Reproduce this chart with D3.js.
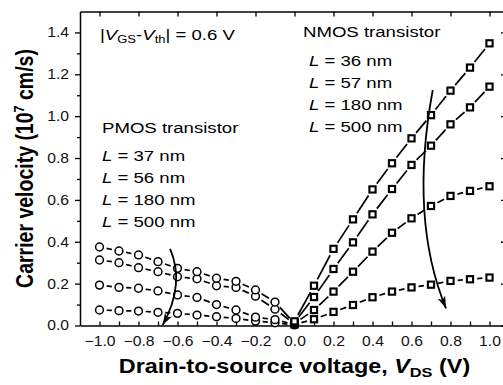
<!DOCTYPE html>
<html><head><meta charset="utf-8">
<script src="https://cdn.jsdelivr.net/npm/d3@7"></script>
<style>
html,body{margin:0;padding:0;background:#fff;}
svg{display:block;}
</style></head>
<body>
<svg id="chart" width="503" height="385"></svg>
<script>
// ---------------- data ----------------
const nmosX = [0.0, 0.1, 0.2, 0.3, 0.4, 0.5, 0.6, 0.7, 0.8, 0.9, 1.0];
const nmos36  = [0.020, 0.190, 0.366, 0.507, 0.650, 0.775, 0.894, 1.005, 1.122, 1.232, 1.348];
const nmos57  = [0.015, 0.136, 0.270, 0.397, 0.531, 0.652, 0.767, 0.859, 0.961, 1.042, 1.141];
const nmos180 = [0.010, 0.074, 0.162, 0.257, 0.353, 0.443, 0.512, 0.571, 0.619, 0.643, 0.665];
const nmos500 = [0.005, 0.030, 0.065, 0.098, 0.135, 0.162, 0.182, 0.195, 0.213, 0.221, 0.229];

const pmosX = [-1.0, -0.9, -0.8, -0.7, -0.6, -0.5, -0.4, -0.3, -0.2, -0.1, 0.0];
const pmos37  = [0.375, 0.356, 0.337, 0.305, 0.273, 0.257, 0.226, 0.211, 0.170, 0.112, 0.010];
const pmos56  = [0.313, 0.300, 0.276, 0.257, 0.233, 0.223, 0.190, 0.182, 0.140, 0.078, 0.008];
const pmos180 = [0.193, 0.182, 0.178, 0.165, 0.146, 0.134, 0.100, 0.074, 0.040, 0.028, 0.005];
const pmos500 = [0.074, 0.071, 0.069, 0.063, 0.058, 0.050, 0.042, 0.034, 0.021, 0.013, 0.003];

const xTickValues = [-1.0,-0.9,-0.8,-0.7,-0.6,-0.5,-0.4,-0.3,-0.2,-0.1,0.0,0.1,0.2,0.3,0.4,0.5,0.6,0.7,0.8,0.9,1.0];
const xLabelValues = [-1.0,-0.8,-0.6,-0.4,-0.2,0.0,0.2,0.4,0.6,0.8,1.0];
const yTickValues = [0.0,0.2,0.4,0.6,0.8,1.0,1.2,1.4];
const yMinorValues = [0.1,0.3,0.5,0.7,0.9,1.1,1.3];

const nmosLabels = ["36", "57", "180", "500"];
const pmosLabels = ["37", "56", "180", "500"];

// arrows (data coordinates: 4 bezier control points)
const nmosArrow = [[0.709,1.125],[0.643,0.791],[0.632,0.409],[0.777,0.082]];
const pmosArrow = [[-0.638,0.366],[-0.591,0.265],[-0.591,0.146],[-0.676,0.002]];

// ---------------- layout ----------------
const FONT = "'Liberation Sans', Arial, Helvetica, sans-serif";
const SX = 1.2;       // horizontal stretch of the original image
const svg = d3.select("#chart");
const x = d3.scaleLinear().domain([-1.1, 1.1]).range([80, 509]);
const y = d3.scaleLinear().domain([0, 1.5]).range([325.5, 11.5]);

// ---------- axes ----------
const fmt = d3.format(".1f");
const axStyle = g => {
  g.selectAll("path.domain").attr("stroke","#000").attr("stroke-width",1.5);
  g.selectAll(".tick line").attr("stroke","#000").attr("stroke-width",1.3);
};

// bottom
const gB = svg.append("g").attr("transform",`translate(0,${y(0)})`)
  .call(d3.axisBottom(x).tickValues(xTickValues).tickSizeInner(-4).tickSizeOuter(0).tickPadding(11)
        .tickFormat(d => xLabelValues.some(v => Math.abs(v-d)<1e-9) ? fmt(d) : ""));
axStyle(gB);
gB.selectAll(".tick text").attr("font-family",FONT).attr("font-size",14).attr("fill","#111")
  .attr("transform",`scale(${1.12},1)`)
  .attr("x",0);

// top
const gT = svg.append("g").attr("transform",`translate(0,${y(1.5)})`)
  .call(d3.axisTop(x).tickValues(xLabelValues).tickSizeInner(-5).tickSizeOuter(0).tickFormat(""));
axStyle(gT);

// left
const gL = svg.append("g").attr("transform",`translate(${x(-1.1)},0)`)
  .call(d3.axisLeft(y).tickValues(yTickValues).tickSizeInner(5).tickSizeOuter(0).tickPadding(6).tickFormat(fmt));
axStyle(gL);
gL.selectAll(".tick text").attr("font-family",FONT).attr("font-size",14).attr("fill","#111")
  .attr("transform",`scale(${1.12},1)`).attr("x",-11/1.12);
const gLm = svg.append("g").attr("transform",`translate(${x(-1.1)},0)`)
  .call(d3.axisLeft(y).tickValues(yMinorValues).tickSizeInner(3).tickSizeOuter(0).tickFormat(""));
axStyle(gLm); gLm.select("path.domain").remove();

// right
const gR = svg.append("g").attr("transform",`translate(${x(1.1)},0)`)
  .call(d3.axisRight(y).tickValues(yTickValues).tickSizeInner(-8).tickSizeOuter(0).tickFormat(""));
axStyle(gR);

// ---------- series ----------
const plot = svg.append("g");
const GAP = 7.2;
function drawSeries(xs, ys, shape) {
  const pts = xs.map((v,i)=>[x(v), y(ys[i])]);
  for (let i=0;i<pts.length-1;i++){
    const [x0,y0]=pts[i],[x1,y1]=pts[i+1];
    const dx=x1-x0, dy=y1-y0, d=Math.hypot(dx,dy);
    if (d > 2*GAP+0.5){
      const ux=dx/d, uy=dy/d;
      plot.append("line")
        .attr("x1",x0+ux*GAP).attr("y1",y0+uy*GAP)
        .attr("x2",x1-ux*GAP).attr("y2",y1-uy*GAP)
        .attr("stroke","#000").attr("stroke-width",1.7);
    }
  }
  const m = plot.selectAll(null).data(pts).enter();
  if (shape==="square"){
    m.append("rect").attr("x",d=>d[0]-3.1).attr("y",d=>d[1]-3.1)
      .attr("width",6.2).attr("height",6.2)
      .attr("fill","#fff").attr("stroke","#000").attr("stroke-width",2.1);
  } else {
    m.append("circle").attr("cx",d=>d[0]).attr("cy",d=>d[1]).attr("r",3.9)
      .attr("fill","#fff").attr("stroke","#000").attr("stroke-width",1.5);
  }
}
[pmos500,pmos180,pmos56,pmos37].forEach(s=>drawSeries(pmosX,s,"circle"));
[nmos500,nmos180,nmos57,nmos36].forEach(s=>drawSeries(nmosX,s,"square"));

// ---------- arrows ----------
const defs = svg.append("defs");
defs.append("marker").attr("id","ah").attr("markerUnits","userSpaceOnUse")
  .attr("markerWidth",14).attr("markerHeight",10).attr("refX",12).attr("refY",4)
  .attr("orient","auto").attr("viewBox","0 0 14 8")
  .append("path").attr("d","M0,0 L12,4 L0,8 L3,4 Z").attr("fill","#000");
function arrow(cp){
  const p = d3.path();
  const P = cp.map(c=>[x(c[0]),y(c[1])]);
  p.moveTo(P[0][0],P[0][1]);
  p.bezierCurveTo(P[1][0],P[1][1],P[2][0],P[2][1],P[3][0],P[3][1]);
  svg.append("path").attr("d",p.toString()).attr("fill","none")
    .attr("stroke","#000").attr("stroke-width",1.8).attr("marker-end","url(#ah)");
}
arrow(nmosArrow);
arrow(pmosArrow);

// ---------- text ----------
function label(px, py, parts, size, opts={}){
  const t = svg.append("text")
    .attr("transform",`translate(${px},${py}) scale(${SX},1)`)
    .attr("font-family",FONT).attr("font-size",size).attr("fill","#000")
    .attr("text-anchor",opts.anchor||"start")
    .attr("font-weight",opts.bold?"bold":"normal");
  let shift = 0;
  parts.forEach(p=>{
    const sp = t.append("tspan").text(p.t);
    let target = 0;
    if (p.sub) { sp.attr("font-size",size*0.7); target = size*0.22; }
    if (p.sup) { sp.attr("font-size",size*0.65); target = -size*0.4; }
    if (p.i) sp.attr("font-style","italic");
    const dy = target - shift;
    if (dy !== 0) sp.attr("dy",dy);
    shift = target;
  });
  return t;
}

label(100, 39.5, [{t:"|"},{t:"V",i:1},{t:"GS",sub:1},{t:"-"},{t:"V",i:1},{t:"th",sub:1},{t:"| = 0.6 V"}], 15.5);

label(303, 36.5, [{t:"NMOS transistor"}], 15.5);
const nY = [65.5, 87.5, 109.5, 131.5];
nmosLabels.forEach((v,i)=>label(309, nY[i], [{t:"L",i:1},{t:" = "+v+" nm"}], 15.5));

label(102, 132.5, [{t:"PMOS transistor"}], 15.5);
const pY = [160.5, 182.5, 204.5, 226.5];
pmosLabels.forEach((v,i)=>label(102, pY[i], [{t:"L",i:1},{t:" = "+v+" nm"}], 15.5));

// axis titles
label(294.5, 373, [{t:"Drain-to-source voltage, "},{t:"V",i:1},{t:"DS",sub:1},{t:" (V)"}], 19.5, {bold:1, anchor:"middle"});

const yt = svg.append("text")
  .attr("transform",`translate(33,168.5) rotate(-90) scale(1,${SX})`)
  .attr("font-family",FONT).attr("font-size",19.5).attr("font-weight","bold")
  .attr("text-anchor","middle").attr("fill","#000");
yt.append("tspan").text("Carrier velocity (10");
yt.append("tspan").text("7").attr("font-size",19.5*0.65).attr("dy",-19.5*0.4);
yt.append("tspan").text(" cm/s)").attr("dy",19.5*0.4);
</script>
</body></html>
